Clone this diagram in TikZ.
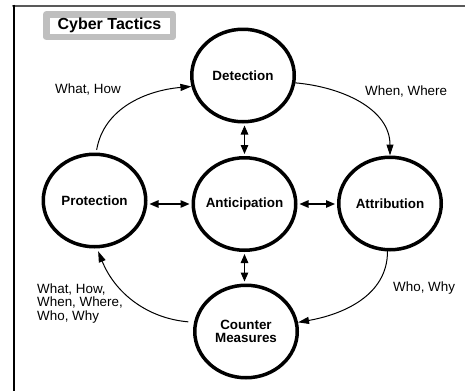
\documentclass[tikz,border=0pt]{standalone}
\usepackage{fontspec}
\setmainfont{Liberation Sans}
\usetikzlibrary{arrows.meta,shapes.geometric}
\colorlet{titlegray}{black!25}
\colorlet{framegray}{black!65}

\begin{document}
\begin{tikzpicture}[x=1pt, y=1pt, line cap=round, line join=round]
    \tikzset{
        tactic/.style={ellipse, draw, line width=3.5pt, minimum width=102.5pt,
            minimum height=92.5pt, inner sep=0pt,
            label={[tacname]center:#1}},
        tacname/.style={font=\fontsize{13.4}{13}\selectfont\bfseries,
            align=center, inner sep=0pt},
        lbl/.style={font=\fontsize{13.4}{13.5}\selectfont, align=left,
            inner sep=0pt, anchor=west},
        flow/.style={-{Triangle[length=11pt, width=7pt]}, line width=1pt},
        both/.style={{Triangle[length=9pt, width=7.5pt]}-{Triangle[length=9pt, width=7.5pt]},
            line width=1.2pt, shorten <=2pt, shorten >=2pt}
    }
    \useasboundingbox (0,0) rectangle (465,-391);

    \draw[line width=2pt, framegray] (13,-5.5) -- (465,-5.5);
    \draw[line width=2pt, line cap=butt] (13.5,-4.5) -- (13.5,-391);

    \node[draw=titlegray, line width=6.5pt, fill=white, minimum width=126.5pt,
        minimum height=22.5pt, inner sep=0pt,
        font=\fontsize{16}{16}\selectfont\bfseries] (title) at (109.5,-25.5) {Cyber Tactics};

    \node[tactic=Detection]            (det)  at (243,-75.5)   {};
    \node[tactic=Anticipation]         (ant)  at (244.5,-204)  {};
    \node[tactic=Protection]           (prot) at (94.5,-200.5) {};
    \node[tactic=Attribution]          (attr) at (390,-203.5)  {};
    \node[tactic={Counter\\Measures}]  (cm)   at (246,-331.5)  {};

    \draw[both] (ant.north) -- (ant.north |- det.south);
    \draw[both] (ant.south) -- (ant.south |- cm.north);
    \draw[both] (ant.west) -- (ant.west -| prot.east);
    \draw[both] (ant.east) -- (ant.east -| attr.west);

    \draw[flow, shorten <=3pt] (prot.88) to[out=80, in=185] (det.192);
    \draw[flow] (det.352) to[out=-5, in=90] (attr.north);
    \draw[flow] (attr.-93) to[out=-90, in=10] (cm.10);
    \draw[flow, shorten <=6pt, shorten >=3pt] (cm.170) to[out=175, in=-68] (prot.-87);

    \node[lbl] (whathow)  at (55,-89)   {What, How};
    \node[lbl] (whenwhere) at (365,-91) {When, Where};
    \node[lbl] (whowhy)   at (393,-288) {Who, Why};
    \node[lbl] (allsix)   at (37,-303.5) {What, How,\\When, Where,\\Who, Why};
\end{tikzpicture}
\end{document}
